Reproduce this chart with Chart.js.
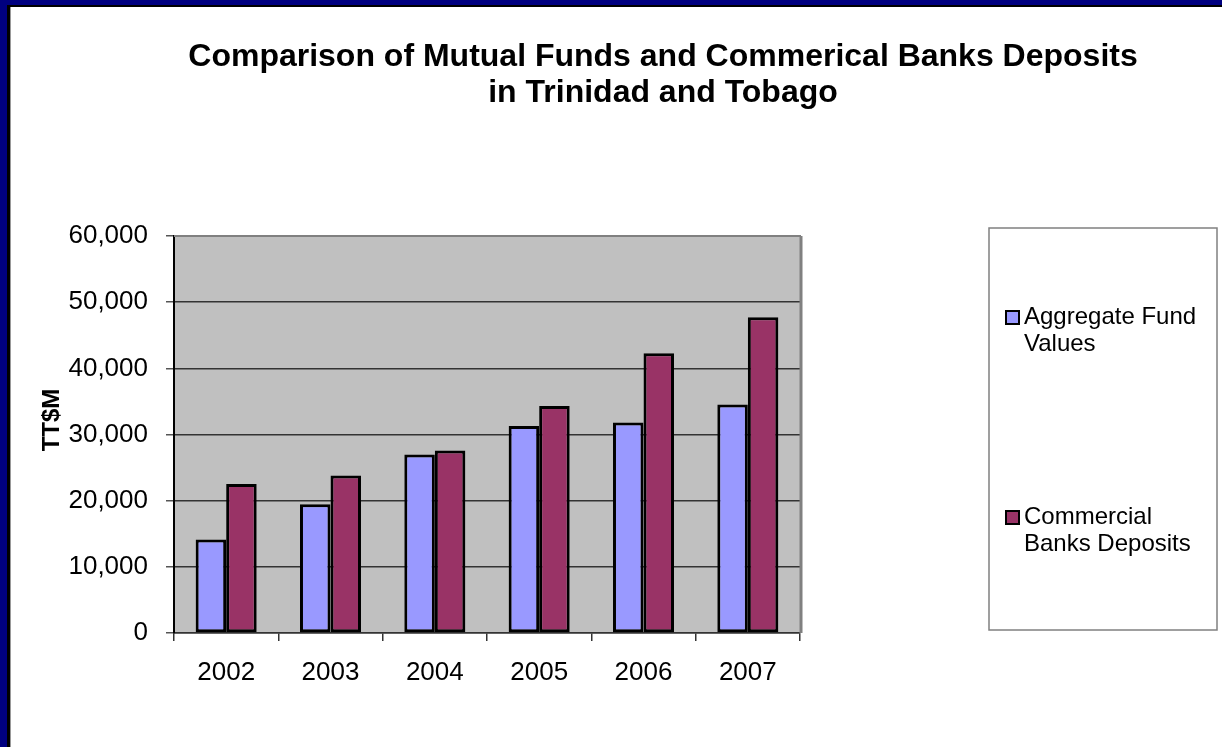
<!DOCTYPE html>
<html>
<head>
<meta charset="utf-8">
<title>Mutual Funds vs Commercial Bank Deposits</title>
<script src="https://cdn.jsdelivr.net/npm/chart.js@4/dist/chart.umd.min.js"></script>
<style>
  html, body { margin: 0; padding: 0; background: #fff; }
  #frame { position: absolute; left: 0; top: 0; width: 1222px; height: 747px; background: #000080; }
  #sheet { position: absolute; left: 7px; top: 5px; right: 0; bottom: 0; background: #fff;
           border-left: 3px solid #000; border-top: 2px solid #000; box-shadow: inset 1px 0 0 #999; }
  #wrap { position: absolute; left: 0; top: 0; width: 1222px; height: 747px; }
</style>
</head>
<body>
<div id="frame"><div id="sheet"></div></div>
<div id="wrap"><canvas id="chart" width="1222" height="747"></canvas></div>
<script>
const years = ['2002', '2003', '2004', '2005', '2006', '2007'];
const fundValues = [14140, 19440, 26970, 31300, 31820, 34550];
const bankDeposits = [22520, 23790, 27580, 34290, 42270, 47730];
const seriesNames = ['Aggregate Fund Values', 'Commercial Banks Deposits'];
const seriesColors = ['#9999FF', '#993366'];
const yTicks = [0, 10000, 20000, 30000, 40000, 50000, 60000];
const titleLines = ['Comparison of Mutual Funds and Commerical Banks Deposits', 'in Trinidad and Tobago'];
const yTitle = 'TT$M';

const FONT = "'Liberation Sans', Arial, sans-serif";
Chart.defaults.font.family = FONT;
Chart.defaults.color = '#000';

// gray plot background behind the grid, gray frame on top/right
const plotBackground = {
  id: 'plotBackground',
  beforeDraw(chart) {
    const { ctx, chartArea: a } = chart;
    ctx.save();
    ctx.fillStyle = '#C0C0C0';
    ctx.fillRect(a.left, a.top, a.right - a.left, a.bottom - a.top);
    ctx.restore();
  },
  afterDraw(chart) {
    const { ctx, chartArea: a } = chart;
    ctx.save();
    ctx.strokeStyle = '#808080';
    ctx.lineWidth = 2;
    ctx.beginPath();
    ctx.moveTo(a.left, a.top);
    ctx.lineTo(a.right + 1, a.top);
    ctx.stroke();
    ctx.lineWidth = 3;
    ctx.beginPath();
    ctx.moveTo(a.right + 1, a.top);
    ctx.lineTo(a.right + 1, a.bottom);
    ctx.stroke();
    ctx.restore();
  }
};

// chart title and rotated value-axis title
const chartTitles = {
  id: 'chartTitles',
  afterDraw(chart) {
    const ctx = chart.ctx;
    ctx.save();
    ctx.fillStyle = '#000';
    ctx.textAlign = 'center';
    ctx.textBaseline = 'middle';
    ctx.font = 'bold 32px ' + FONT;
    titleLines.forEach((t, i) => ctx.fillText(t, 663, 57 + i * 36));
    ctx.font = 'bold 24px ' + FONT;
    ctx.translate(52, 420);
    ctx.rotate(-Math.PI / 2);
    ctx.fillText(yTitle, 0, 0);
    ctx.restore();
  }
};

function wrapText(ctx, text, maxW) {
  const words = text.split(' ');
  const lines = [];
  let cur = '';
  words.forEach(w => {
    const test = cur ? cur + ' ' + w : w;
    if (cur && ctx.measureText(test).width > maxW) { lines.push(cur); cur = w; }
    else cur = test;
  });
  if (cur) lines.push(cur);
  return lines;
}

// boxed legend to the right of the plot
const boxLegend = {
  id: 'boxLegend',
  afterDraw(chart) {
    const ctx = chart.ctx;
    const box = { x: 989, y: 228, w: 228, h: 402 };
    ctx.save();
    ctx.strokeStyle = '#808080';
    ctx.lineWidth = 1.5;
    ctx.strokeRect(box.x, box.y, box.w, box.h);
    ctx.font = '24px ' + FONT;
    ctx.textBaseline = 'middle';
    ctx.textAlign = 'left';
    const rowY = [317, 517];
    chart.data.datasets.forEach((ds, i) => {
      const y = rowY[i];
      ctx.fillStyle = ds.backgroundColor;
      ctx.fillRect(1006, y - 6, 13, 13);
      ctx.strokeStyle = '#000';
      ctx.lineWidth = 2;
      ctx.strokeRect(1006, y - 6, 13, 13);
      ctx.fillStyle = '#000';
      wrapText(ctx, ds.label, 185).forEach((line, j) => ctx.fillText(line, 1024, y + j * 27));
    });
    ctx.restore();
  }
};

new Chart(document.getElementById('chart'), {
  type: 'bar',
  data: {
    labels: years,
    datasets: [
      { label: seriesNames[0], data: fundValues, backgroundColor: seriesColors[0] },
      { label: seriesNames[1], data: bankDeposits, backgroundColor: seriesColors[1] }
    ]
  },
  options: {
    responsive: false,
    animation: false,
    layout: { padding: { left: 0, top: 236, right: 422, bottom: 54 } },
    datasets: {
      bar: {
        categoryPercentage: 0.585,
        barPercentage: 1,
        borderColor: '#000',
        borderWidth: 3,
        borderSkipped: false
      }
    },
    plugins: {
      legend: { display: false },
      title: { display: false },
      tooltip: { enabled: false }
    },
    scales: {
      x: {
        afterFit: s => { s.height = 60; },
        grid: { drawOnChartArea: false, offset: true, tickLength: 8, tickColor: '#333', lineWidth: 1.5 },
        border: { color: '#333', width: 1.5 },
        ticks: { font: { size: 26 }, padding: 16, color: '#000' }
      },
      y: {
        min: 0,
        max: 60000,
        afterFit: s => { s.width = 174; },
        afterBuildTicks: s => { s.ticks = yTicks.map(v => ({ value: v })); },
        grid: {
          color: ctx => (ctx.tick && ctx.tick.value === 60000) ? 'rgba(0,0,0,0)' : '#333',
          tickColor: '#555',
          tickLength: 8,
          lineWidth: 1.5
        },
        border: { color: '#000', width: 2 },
        ticks: {
          font: { size: 26 },
          padding: 18,
          color: '#000',
          callback: v => v.toLocaleString('en-US')
        }
      }
    }
  },
  plugins: [plotBackground, chartTitles, boxLegend]
});
</script>
</body>
</html>
